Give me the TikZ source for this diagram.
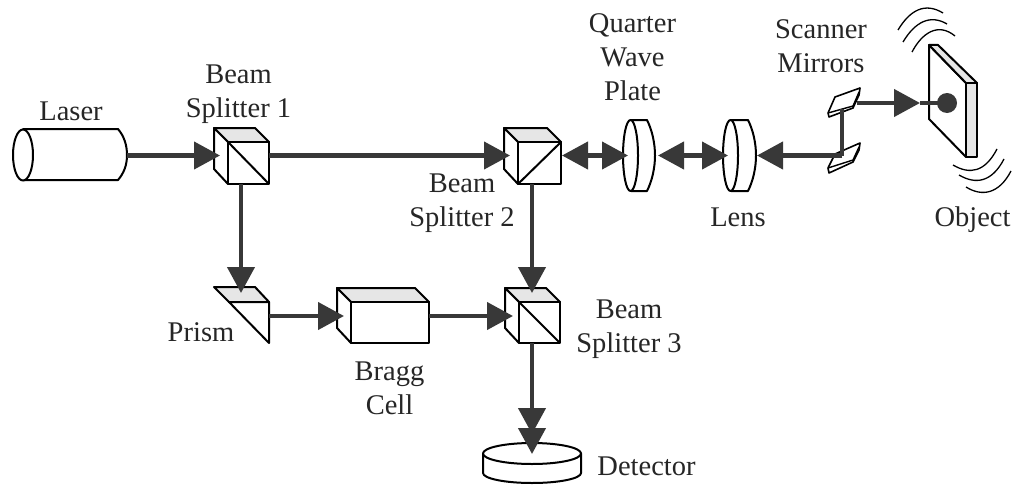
\documentclass[tikz,border=0pt]{standalone}
\usepackage{fontspec}
\setmainfont{Liberation Serif}
\usetikzlibrary{arrows.meta}
\definecolor{beamc}{HTML}{383838}
\definecolor{facec}{HTML}{E6E6E6}
\tikzset{
 x=1pt,y=-1pt,
 part/.style={draw=black,line width=2pt,line join=round,fill=white},
 lit/.style={draw=black,line width=2pt,line join=round,fill=facec},
 edge/.style={draw=black,line width=2pt,line join=round},
 wave/.style={draw=black,line width=1.3pt},
 beam/.style={draw=beamc,line width=4.2pt,-{Triangle[length=26pt,width=27pt]},shorten >=0pt},
 beamtwo/.style={draw=beamc,line width=4.2pt,{Triangle[length=26pt,width=27pt]}-{Triangle[length=26pt,width=27pt]}},
 plain/.style={draw=beamc,line width=4.2pt},
 lab/.style={font=\fontsize{28.5}{34}\selectfont,align=center,inner sep=0pt,text=black!85}
}
\newcommand{\mycube}[4]{% x,y,w,h
 \draw[lit] (#1,#2) -- ++(-14,-14) -- ++(#3-0,0) -- ++(14,14) -- cycle;
 \draw[part] (#1,#2) -- ++(-14,-14) -- ++(0,#4-1) -- ++(14,15) -- cycle;
 \draw[part] (#1,#2) rectangle ++(#3,#4);
}
\begin{document}
\begin{tikzpicture}
\useasboundingbox[fill=white] (0,0) rectangle (1016,487);
% laser
\draw[part] (23,129) -- (118,129) .. controls (124,136) and (127,145) .. (127,155) .. controls (127,165) and (124,173) .. (118,180) -- (23,180) -- cycle;
\draw[part] (23,155) ellipse [x radius=10,y radius=25.5];
% cubes
\mycube{228}{142}{41}{42}
\draw[edge] (228,142) -- (269,184);
\mycube{518}{142}{43}{42}
\draw[edge] (518,184) -- (561,142);
\mycube{519}{302}{41}{41}
\draw[edge] (519,302) -- (560,343);
% bragg
\mycube{351}{302}{78}{41}
% prism
\draw[lit] (214,287) -- (255,287) -- (269,302) -- (229,302) -- cycle;
\draw[part] (229,302) -- (269,302) -- (269,343) -- cycle;
% plate
\draw[part] (631,120) -- (647,120) .. controls (652,130) and (655,143) .. (655,155.5) .. controls (655,168) and (652,181) .. (647,191) -- (631,191) -- cycle;
\draw[part] (630.5,155.5) ellipse [x radius=7.5,y radius=35.5];
% lens
\draw[part] (731,120) -- (748,120) .. controls (753,130) and (756,143) .. (756,155.5) .. controls (756,168) and (753,181) .. (748,191) -- (731,191) -- cycle;
\draw[part] (730.5,155.5) ellipse [x radius=7.5,y radius=35.5];
% mirrors
\draw[part,line width=1.6pt] (835,97) -- (860,88) -- (859,95) -- (853,108) -- (829,117) -- (828,113) -- cycle;
\draw[edge,line width=1.4pt] (828,113) -- (853,106) -- (859,92);
\draw[part,line width=1.6pt] (835,154) -- (860,143) -- (859,150) -- (853,162) -- (829,173) -- (828,168) -- cycle;
\draw[edge,line width=1.4pt] (828,168) -- (853,160) -- (859,147);
% object
\draw[part] (929,45) -- (966,83) -- (966,157) -- (929,119) -- cycle;
\draw[lit] (929,45) -- (938,45) -- (977,83) -- (966,83) -- cycle;
\draw[lit] (966,83) -- (977,83) -- (977,157) -- (966,157) -- cycle;
% waves
\draw[wave] (898,30) .. controls (910,10) and (925,2) .. (943,13);
\draw[wave] (903,42) .. controls (915,22) and (930,14) .. (947,24);
\draw[wave] (912,52) .. controls (922,33) and (938,22) .. (955,36);
\draw[wave] (953,165) .. controls (970,175) and (985,172) .. (997,149);
\draw[wave] (959,175) .. controls (976,185) and (992,182) .. (1004,159);
\draw[wave] (966,187) .. controls (982,197) and (999,194) .. (1011,171);
% detector
\draw[part] (483,453.5) -- (483,473) arc [start angle=180,end angle=360,x radius=49,y radius=-10] -- (581,453.5) -- cycle;
\draw[part] (532,453.5) ellipse [x radius=49,y radius=10.5];
% anchor points of the connectors
\coordinate (laserout) at (127,155.5);
\coordinate (bsoneW) at (220,155.5);
\coordinate (bsoneE) at (269,155.5);
\coordinate (bsoneS) at (241,184);
\coordinate (prismN) at (241,293);
\coordinate (prismE) at (269,316);
\coordinate (braggW) at (344,316);
\coordinate (braggE) at (429,316);
\coordinate (bsthreeW) at (513,316);
\coordinate (bstwoW) at (510,155.5);
\coordinate (bstwoE) at (562,155.5);
\coordinate (bstwoS) at (532,184);
\coordinate (bsthreeN) at (532,293);
\coordinate (bsthreeS) at (532,343);
\coordinate (detA) at (532,434);
\coordinate (detB) at (532,454);
\coordinate (qwpW) at (628,155.5);
\coordinate (qwpE) at (658,155.5);
\coordinate (lensW) at (728,155.5);
\coordinate (lensE) at (757,155.5);
\coordinate (mirB) at (842,155.5);
\coordinate (mirT) at (842,109);
\coordinate (mirO) at (857,103);
\coordinate (objW) at (920,103);
\coordinate (objC) at (947,103);
% connectors
\draw[beam] (laserout) -- (bsoneW);
\draw[beam] (bsoneE) -- (bstwoW);
\draw[beam] (bsoneS) -- (prismN);
\draw[beam] (prismE) -- (braggW);
\draw[beam] (braggE) -- (bsthreeW);
\draw[beam] (bstwoS) -- (bsthreeN);
\draw[beam] (bsthreeS) -- (detA);
\draw[beam] (detA) -- (detB);
\draw[beamtwo] (bstwoE) -- (qwpW);
\draw[beamtwo] (qwpE) -- (lensW);
\draw[beam] (mirB) -- (lensE);
\draw[plain] (mirT) -- (mirB);
\draw[beam] (mirO) -- (objW);
\draw[plain] (objW) -- (objC);
\fill[beamc] (objC) circle (10);
% labels
\node[lab] (tlaser) at (71,111) {Laser};
\node[lab] (tbsone) at (238.5,94) {Beam\\Splitter 1};
\node[lab] (tbstwo) at (462,203) {Beam\\Splitter 2};
\node[lab] (tbsthree) at (629,329) {Beam\\Splitter 3};
\node[lab] (tprism) at (201,332.5) {Prism};
\node[lab] (tbragg) at (389.5,388) {Bragg\\Cell};
\node[lab] (tqwp) at (632.5,57) {Quarter\\Wave\\Plate};
\node[lab] (tlens) at (738,217.5) {Lens};
\node[lab] (tscan) at (821,46) {Scanner\\Mirrors};
\node[lab] (tobj) at (972.5,219.5) {Object};
\node[lab] (tdet) at (646.5,466) {Detector};
\end{tikzpicture}
\end{document}
